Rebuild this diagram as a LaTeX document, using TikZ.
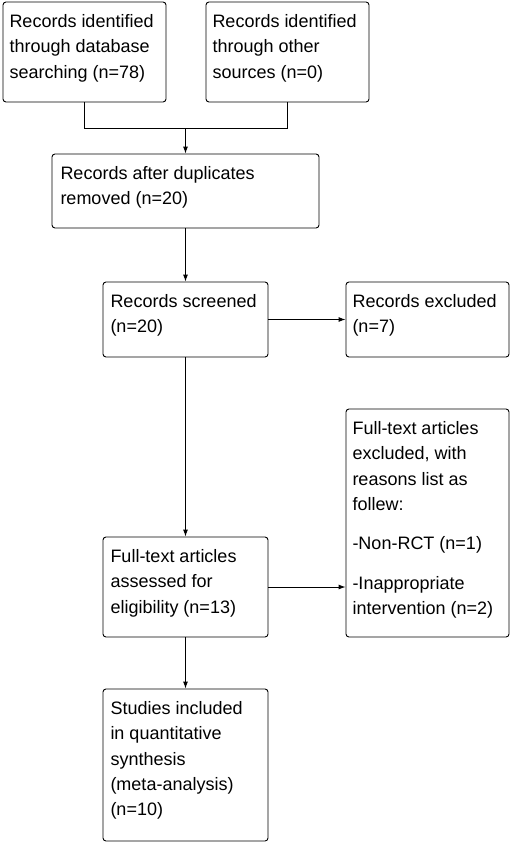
\documentclass[tikz,border=0pt]{standalone}
\usepackage{fontspec}
\setmainfont{Liberation Sans}
\usetikzlibrary{arrows.meta}
\newcommand{\bt}[3]{\parbox[c][#2][t]{#1}{\raggedright\fontsize{18pt}{25.3pt}\selectfont\rule{0pt}{25.5pt}#3}}
\tikzset{
  box/.style={draw=black, line width=0.9pt, rounded corners=3pt, inner xsep=6pt, inner ysep=0pt, anchor=center},
  conn/.style={draw=black, line width=0.9pt},
  arr/.style={conn, -{Latex[length=7pt,width=5pt]}}
}
\begin{document}
\begin{tikzpicture}[x=1pt,y=-1pt]
\useasboundingbox (0,0) rectangle (512,843);
\node[box, minimum width=163pt, minimum height=100pt] (b1) at (84.5,52) {\bt{150pt}{100pt}{Records identified\\through database\\searching (n=78)}};
\node[box, minimum width=163pt, minimum height=100pt] (b2) at (287.5,52) {\bt{150pt}{100pt}{Records identified\\through other\\sources (n=0)}};
\node[box, minimum width=267pt, minimum height=74pt] (b3) at (185.5,191) {\bt{250pt}{74pt}{Records after duplicates\\removed (n=20)}};
\node[box, minimum width=165pt, minimum height=75pt] (b4) at (185.5,319.5) {\bt{150pt}{75pt}{Records screened\\(n=20)}};
\node[box, minimum width=163pt, minimum height=75pt] (b5) at (427.5,319.5) {\bt{150pt}{75pt}{Records excluded\\(n=7)}};
\node[box, minimum width=165pt, minimum height=100pt] (b6) at (185.5,587) {\bt{150pt}{100pt}{Full-text articles\\assessed for\\eligibility (n=13)}};
\node[box, minimum width=163pt, minimum height=228pt] (b7) at (427.5,523) {\bt{150pt}{228pt}{Full-text articles\\excluded, with\\reasons list as\\follew:\\[14pt]-Non-RCT (n=1)\\[14pt]-Inappropriate\\intervention (n=2)}};
\node[box, minimum width=165pt, minimum height=152pt] (b8) at (185.5,765) {\bt{150pt}{152pt}{Studies included\\in quantitative\\synthesis\\(meta-analysis)\\(n=10)}};
\coordinate (j) at (185.5,128);
\draw[conn] (b1.south) -- (b1.south |- j) -| (b2.south);
\draw[arr] (j) -- (b3.north);
\draw[arr] (b3.south) -- (b4.north);
\draw[arr] (b4.east) -- (b5.west);
\draw[arr] (b4.south) -- (b6.north);
\draw[arr] (b6.east) -- (b6.east -| b7.west);
\draw[arr] (b6.south) -- (b8.north);
\end{tikzpicture}
\end{document}
